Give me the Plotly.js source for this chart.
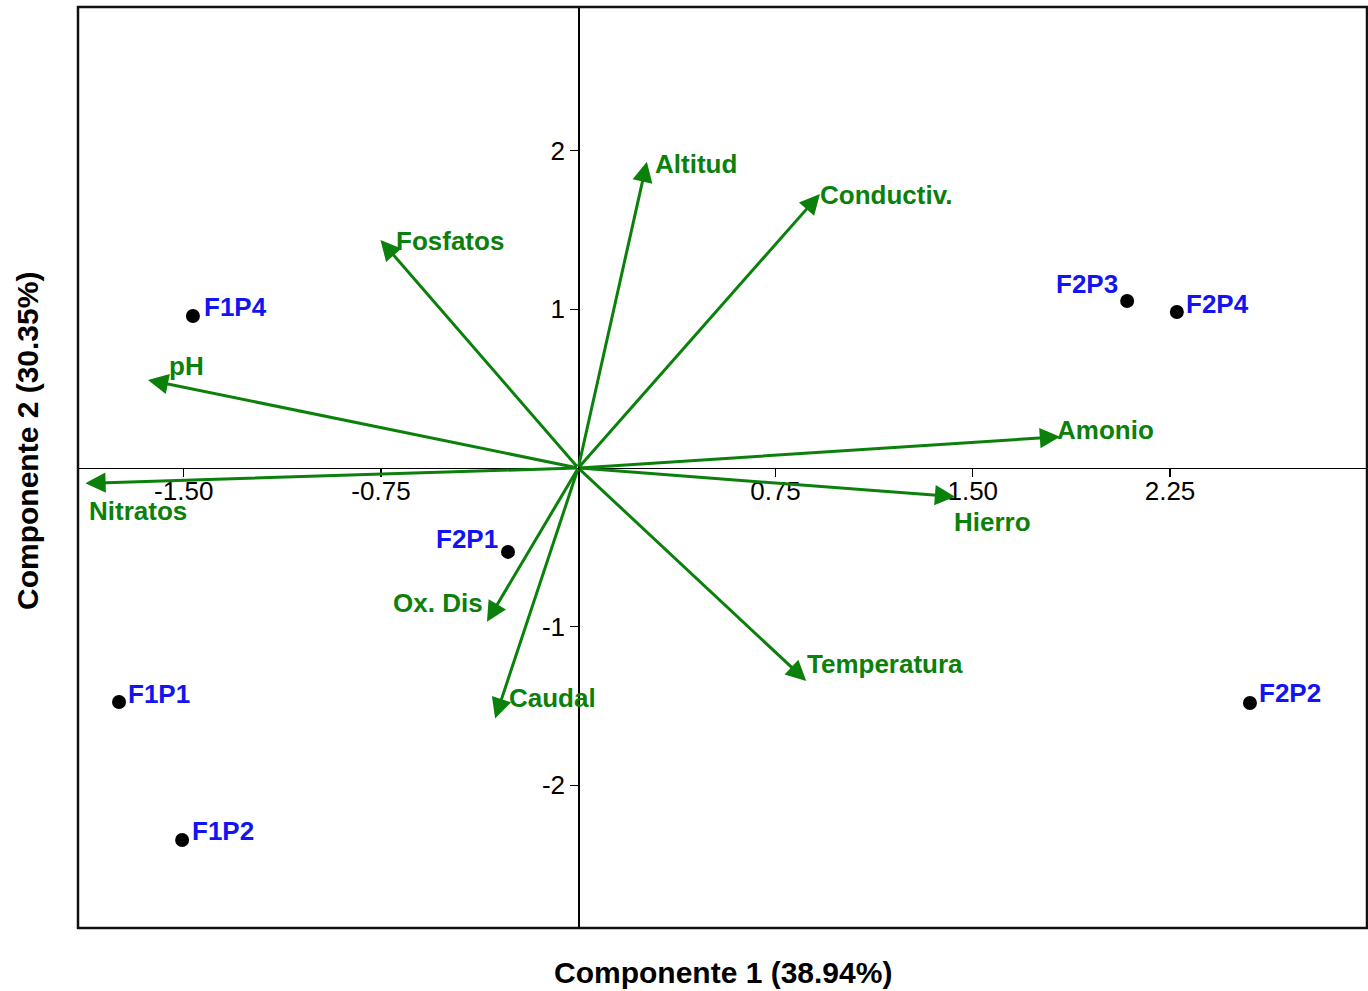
<!DOCTYPE html>
<html>
<head>
<meta charset="utf-8">
<script src="https://cdn.plot.ly/plotly-3.0.1.min.js"></script>
<style>html,body{margin:0;padding:0;background:#fff;}#chart{width:1368px;height:991px;}</style>
</head>
<body>
<div id="chart"></div>
<script>
// Sample scores
const siteNames = ['F1P4', 'F1P1', 'F1P2', 'F2P1', 'F2P3', 'F2P4', 'F2P2'];
const siteX = [-1.465, -1.746, -1.506, -0.267, 2.087, 2.276, 2.554];
const siteY = [0.958, -1.475, -2.344, -0.529, 1.052, 0.983, -1.481];

// Variable loadings (arrow tips)
const varNames = ['Altitud', 'Conductiv.', 'Fosfatos', 'pH', 'Nitratos', 'Amonio', 'Hierro', 'Ox. Dis', 'Caudal', 'Temperatura'];
const varX = [0.261, 0.919, -0.752, -1.636, -1.874, 1.832, 1.433, -0.347, -0.316, 0.867];
const varY = [1.930, 1.727, 1.437, 0.555, -0.097, 0.197, -0.181, -0.969, -1.578, -1.342];

// Axis ticks
const xTickVals = [-1.5, -0.75, 0.75, 1.5, 2.25];
const xTickText = ['-1.50', '-0.75', '0.75', '1.50', '2.25'];
const yTickVals = [-2, -1, 1, 2];
const yTickText = ['-2', '-1', '1', '2'];

const xRange = [-1.902, 2.999];
const yRange = [-2.899, 2.905];

const FONT = 'Liberation Sans, Arial, Helvetica, sans-serif';
const GREEN = '#0b800b';
const BLUE = '#1414f0';

// label offsets (pixels) relative to each point / arrow tip
const siteLabelPos = [
  {xa: 'left', dx: 9, dy: -9},
  {xa: 'left', dx: 7, dy: -8},
  {xa: 'left', dx: 8, dy: -9},
  {xa: 'right', dx: -8, dy: -13},
  {xa: 'right', dx: -7, dy: -17},
  {xa: 'left', dx: 7, dy: -8},
  {xa: 'left', dx: 7, dy: -10}
];
const varLabelPos = [
  {xa: 'left', dx: 6, dy: 2},
  {xa: 'left', dx: -2, dy: 1},
  {xa: 'left', dx: 14, dy: 1},
  {xa: 'left', dx: 19, dy: -14},
  {xa: 'left', dx: 2, dy: 28},
  {xa: 'left', dx: -5, dy: -7},
  {xa: 'left', dx: -3, dy: 25},
  {xa: 'right', dx: -2, dy: -19},
  {xa: 'left', dx: 12, dy: -20},
  {xa: 'left', dx: -1, dy: -17}
];

const annotations = [];
for (let i = 0; i < varNames.length; i++) {
  annotations.push({
    x: varX[i], y: varY[i], xref: 'x', yref: 'y',
    ax: 0, ay: 0, axref: 'x', ayref: 'y',
    text: '', showarrow: true,
    arrowhead: 2, arrowsize: 1.35, arrowwidth: 3, arrowcolor: GREEN
  });
}
for (let i = 0; i < varNames.length; i++) {
  const p = varLabelPos[i];
  annotations.push({
    x: varX[i], y: varY[i], xref: 'x', yref: 'y',
    text: '<b>' + varNames[i] + '</b>', showarrow: false,
    xanchor: p.xa, yanchor: 'middle', xshift: p.dx, yshift: -p.dy,
    font: {family: FONT, size: 26, color: GREEN}
  });
}
for (let i = 0; i < siteNames.length; i++) {
  const p = siteLabelPos[i];
  annotations.push({
    x: siteX[i], y: siteY[i], xref: 'x', yref: 'y',
    text: '<b>' + siteNames[i] + '</b>', showarrow: false,
    xanchor: p.xa, yanchor: 'middle', xshift: p.dx, yshift: -p.dy,
    font: {family: FONT, size: 26, color: BLUE}
  });
}

const ml = 78, mr = 1, mt = 7, mb = 63, W = 1368, H = 991;
const pw = W - ml - mr, ph = H - mt - mb;
// axis titles (placed in paper coordinates from pixel targets)
annotations.push({
  x: (723 - ml) / pw, y: (H - mb - 972) / ph, xref: 'paper', yref: 'paper', showarrow: false,
  xanchor: 'center', yanchor: 'middle',
  text: '<b>Componente 1 (38.94%)</b>', font: {family: FONT, size: 30, color: '#000'}
});
annotations.push({
  x: (27 - ml) / pw, y: (H - mb - 441) / ph, xref: 'paper', yref: 'paper', showarrow: false,
  xanchor: 'center', yanchor: 'middle', textangle: -90,
  text: '<b>Componente 2 (30.35%)</b>', font: {family: FONT, size: 30, color: '#000'}
});

const xZeroPos = (0 - yRange[0]) / (yRange[1] - yRange[0]);
const yZeroPos = (0 - xRange[0]) / (xRange[1] - xRange[0]);

const traces = [{
  type: 'scatter', mode: 'markers', x: siteX, y: siteY,
  marker: {color: '#000', size: 14},
  hoverinfo: 'skip', showlegend: false, cliponaxis: false
}];

const layout = {
  width: W, height: H,
  margin: {l: ml, r: mr, t: mt, b: mb, pad: 0},
  paper_bgcolor: '#fff', plot_bgcolor: '#fff',
  showlegend: false,
  font: {family: FONT, color: '#000'},
  xaxis: {
    range: xRange, anchor: 'free', position: xZeroPos,
    showgrid: false, zeroline: false, showline: true, linecolor: '#000', linewidth: 1.5,
    ticks: 'outside', ticklen: 8, tickwidth: 1.2, tickcolor: '#000',
    ticklabelstandoff: -9,
    tickvals: xTickVals, ticktext: xTickText,
    tickfont: {family: FONT, size: 26, color: '#000'}
  },
  yaxis: {
    range: yRange, anchor: 'free', position: yZeroPos,
    showgrid: false, zeroline: false, showline: true, linecolor: '#000', linewidth: 1.5,
    ticks: 'outside', ticklen: 8, tickwidth: 1.2, tickcolor: '#000',
    tickvals: yTickVals, ticktext: yTickText,
    tickfont: {family: FONT, size: 26, color: '#000'}
  },
  shapes: [{
    type: 'rect', xref: 'paper', yref: 'paper', x0: 0, x1: 1, y0: 0, y1: 1,
    line: {color: '#111', width: 2.5}, layer: 'above'
  }],
  annotations: annotations
};

Plotly.newPlot('chart', traces, layout, {displayModeBar: false, staticPlot: true});
</script>
</body>
</html>
